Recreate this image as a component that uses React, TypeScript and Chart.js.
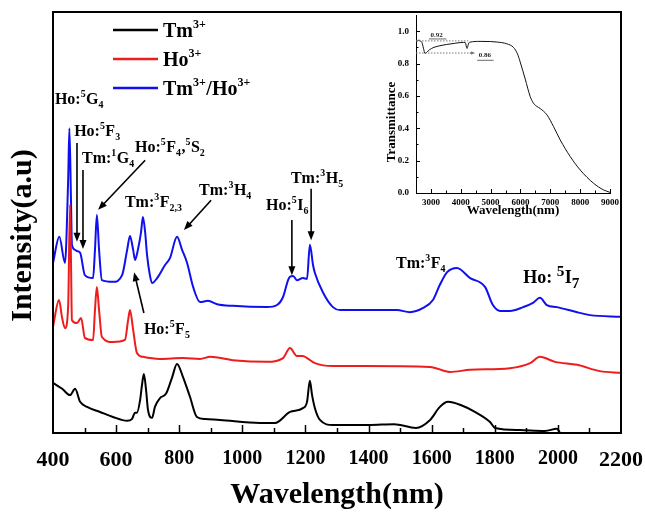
import React, { useEffect, useRef } from 'react';
import { Chart, registerables } from 'chart.js';
Chart.register(...registerables);

const FONT = "'Liberation Serif', 'Times New Roman', serif";

// ---- Main spectra (wavelength nm, intensity a.u.) ----
const TM_NM = [400, 429, 454, 470, 486, 508, 549, 590, 635, 650, 660, 666, 676, 682, 688, 695, 701, 714, 723, 739, 758, 777, 793, 812, 834, 856, 882, 929, 1056, 1104, 1151, 1192, 1205, 1214, 1221, 1230, 1246, 1287, 1401, 1481, 1550, 1595, 1626, 1652, 1690, 1737, 1785, 1801, 1880, 1959, 1997, 2006];
const TM_I = [11.9, 10.5, 9.0, 10.5, 7.4, 6.2, 5.0, 3.8, 2.9, 3.3, 4.8, 4.8, 7.8, 11.4, 14.0, 10.2, 5.5, 3.6, 6.2, 8.3, 9.3, 13.1, 16.4, 13.3, 8.6, 3.8, 3.3, 3.1, 2.4, 2.4, 5.0, 5.9, 7.4, 12.4, 9.0, 5.9, 3.1, 1.9, 1.9, 2.1, 1.2, 3.1, 6.2, 7.4, 6.7, 5.0, 2.6, 1.2, 0.7, 0.5, 1.0, 0.2];

const HO_NM = [400, 419, 429, 438, 448, 454, 457, 460, 476, 489, 501, 527, 533, 539, 546, 555, 590, 628, 638, 644, 654, 666, 685, 739, 812, 866, 898, 970, 1078, 1129, 1151, 1173, 1192, 1205, 1230, 1287, 1382, 1595, 1658, 1722, 1848, 1912, 1943, 1991, 2061, 2133, 2200];
const HO_I = [25.2, 31.6, 27.3, 24.9, 30.0, 54.2, 41.1, 26.8, 26.1, 27.3, 22.6, 22.1, 29.2, 34.7, 29.2, 22.8, 21.6, 22.1, 26.8, 29.2, 24.5, 19.0, 18.1, 17.6, 17.8, 17.6, 18.1, 17.3, 16.9, 17.8, 20.2, 18.3, 18.3, 17.8, 16.6, 15.9, 15.9, 15.7, 14.5, 15.0, 15.4, 16.6, 18.1, 16.9, 16.2, 14.7, 14.3];

const CO_NM = [400, 420, 438, 448, 452, 457, 460, 470, 476, 486, 501, 527, 533, 539, 546, 555, 590, 619, 635, 644, 654, 660, 669, 679, 685, 692, 698, 707, 714, 730, 755, 771, 793, 809, 825, 844, 866, 891, 920, 970, 1078, 1110, 1129, 1145, 1151, 1161, 1173, 1192, 1205, 1214, 1224, 1230, 1256, 1287, 1310, 1382, 1490, 1531, 1573, 1604, 1626, 1649, 1680, 1722, 1769, 1794, 1817, 1848, 1890, 1921, 1943, 1965, 1997, 2061, 2102, 2200];
const CO_I = [40.4, 46.6, 40.4, 60.1, 72.4, 55.3, 44.7, 43.5, 43.2, 42.8, 37.5, 36.8, 43.5, 51.8, 43.5, 36.3, 35.9, 37.5, 43.5, 46.8, 43.5, 41.1, 43.5, 47.7, 51.3, 47.7, 42.3, 37.5, 35.6, 36.8, 39.9, 41.6, 46.6, 43.5, 40.4, 34.7, 31.1, 31.4, 30.6, 30.2, 29.9, 30.4, 32.3, 36.3, 37.1, 37.3, 36.3, 36.8, 36.6, 44.7, 39.9, 38.0, 33.3, 29.9, 29.2, 29.2, 29.2, 28.7, 29.7, 31.6, 35.2, 38.2, 39.2, 36.8, 34.7, 30.4, 29.0, 29.0, 29.9, 30.9, 32.1, 30.4, 29.9, 28.7, 28.0, 27.6];

const X_TICKS = [400, 600, 800, 1000, 1200, 1400, 1600, 1800, 2000, 2200];

// ---- Inset: transmittance ----
const INSET_NM = [2500, 2550, 2600, 2650, 2700, 2750, 2800, 2850, 2950, 3100, 3300, 3530, 3800, 4087, 4150, 4210, 4240, 4270, 4312, 4648, 5000, 5208, 5544, 5765, 5900, 5990, 6158, 6326, 6436, 6550, 6661, 6886, 7107, 7332, 7668, 8003, 8450, 8785, 9000];
const INSET_T = [0.931, 0.940, 0.945, 0.938, 0.930, 0.895, 0.862, 0.868, 0.885, 0.900, 0.910, 0.918, 0.925, 0.931, 0.930, 0.893, 0.910, 0.927, 0.932, 0.937, 0.936, 0.933, 0.922, 0.900, 0.860, 0.810, 0.705, 0.596, 0.555, 0.535, 0.522, 0.483, 0.411, 0.328, 0.225, 0.142, 0.060, 0.019, 0.004];
const INSET_X_TICKS = [3000, 4000, 5000, 6000, 7000, 8000, 9000];
const INSET_Y_TICKS = [0, 0.2, 0.4, 0.6, 0.8, 1.0];

type Seg = [string, number];

const LEGEND: { segs: Seg[]; color: string }[] = [
  { segs: [['Tm', 0], ['3+', 1]], color: '#000000' },
  { segs: [['Ho', 0], ['3+', 1]], color: '#ee1c1c' },
  { segs: [['Tm', 0], ['3+', 1], ['/Ho', 0], ['3+', 1]], color: '#1010ee' },
];

const LABELS: { segs: Seg[]; nm: number; v: number; big?: boolean }[] = [
  { segs: [['Ho:', 0], ['5', 1], ['G', 0], ['4', -1]], nm: 406, v: 78.1 },
  { segs: [['Ho:', 0], ['5', 1], ['F', 0], ['3', -1]], nm: 467, v: 70.5 },
  { segs: [['Tm:', 0], ['1', 1], ['G', 0], ['4', -1]], nm: 492, v: 64.1 },
  { segs: [['Ho:', 0], ['5', 1], ['F', 0], ['4', -1], [',', 0], ['5', 1], ['S', 0], ['2', -1]], nm: 660, v: 66.7 },
  { segs: [['Tm:', 0], ['3', 1], ['F', 0], ['2,3', -1]], nm: 628, v: 53.7 },
  { segs: [['Tm:', 0], ['3', 1], ['H', 0], ['4', -1]], nm: 863, v: 56.5 },
  { segs: [['Ho:', 0], ['5', 1], ['I', 0], ['6', -1]], nm: 1075, v: 53.0 },
  { segs: [['Tm:', 0], ['3', 1], ['H', 0], ['5', -1]], nm: 1154, v: 59.4 },
  { segs: [['Ho:', 0], ['5', 1], ['F', 0], ['5', -1]], nm: 688, v: 23.5 },
  { segs: [['Tm:', 0], ['3', 1], ['F', 0], ['4', -1]], nm: 1487, v: 39.2 },
  { segs: [['Ho: ', 0], ['5', 1], ['I', 0], ['7', -1]], nm: 1890, v: 35.6, big: true },
];

// arrows: [fromNm, fromV, toNm, toV]
const ARROWS: number[][] = [
  [476, 68.9, 476, 45.4],
  [495, 62.5, 495, 43.7],
  [692, 64.8, 543, 53.0],
  [901, 55.3, 815, 48.2],
  [1157, 50.6, 1157, 37.5],
  [1218, 58.0, 1218, 45.8],
  [688, 28.5, 657, 38.2],
];

function drawRich(ctx: CanvasRenderingContext2D, x: number, y: number, segs: Seg[], size: number, scale = 0.62) {
  let cx = x;
  ctx.textAlign = 'left';
  ctx.textBaseline = 'alphabetic';
  for (const [t, k] of segs) {
    const fs = k === 0 ? size : size * scale;
    ctx.font = `bold ${fs}px ${FONT}`;
    const dy = k === 1 ? -size * 0.42 : k === -1 ? size * 0.25 : 0;
    ctx.fillText(t, cx, y + dy);
    cx += ctx.measureText(t).width + (k !== 0 ? 0.5 : 0);
  }
}

function drawArrow(ctx: CanvasRenderingContext2D, x1: number, y1: number, x2: number, y2: number, L = 9, W = 3.5) {
  const a = Math.atan2(y2 - y1, x2 - x1);
  const c = Math.cos(a), s = Math.sin(a);
  ctx.beginPath();
  ctx.moveTo(x1, y1);
  ctx.lineTo(x2 - L * 0.7 * c, y2 - L * 0.7 * s);
  ctx.stroke();
  ctx.beginPath();
  ctx.moveTo(x2, y2);
  ctx.lineTo(x2 - L * c + W * s, y2 - L * s - W * c);
  ctx.lineTo(x2 - L * c - W * s, y2 - L * s + W * c);
  ctx.closePath();
  ctx.fill();
}

const mainDecor = {
  id: 'mainDecor',
  afterDatasetsDraw(chart: any) {
    const ctx: CanvasRenderingContext2D = chart.ctx;
    const { left, right, top, bottom } = chart.chartArea;
    const xs = chart.scales.x, ys = chart.scales.y;
    ctx.save();
    ctx.strokeStyle = '#000';
    ctx.fillStyle = '#000';
    ctx.lineWidth = 2;
    ctx.strokeRect(left, top, right - left, bottom - top);
    ctx.lineWidth = 1.5;
    for (let v = 500; v < 2200; v += 100) {
      const x = Math.round(xs.getPixelForValue(v)) + 0.5;
      const len = v % 200 === 0 ? 8 : 5;
      ctx.beginPath();
      ctx.moveTo(x, bottom);
      ctx.lineTo(x, bottom - len);
      ctx.stroke();
    }
    ctx.save();
    ctx.translate(left - 30, (top + bottom) / 2 + 13);
    ctx.rotate(-Math.PI / 2);
    ctx.font = `bold 30px ${FONT}`;
    ctx.textAlign = 'center';
    ctx.textBaseline = 'middle';
    ctx.fillText('Intensity(a.u)', 0, 0);
    ctx.restore();
    LEGEND.forEach((e, i) => {
      const y = top + 18 + i * 29;
      ctx.strokeStyle = e.color;
      ctx.lineWidth = 2.5;
      ctx.beginPath();
      ctx.moveTo(left + 60, y);
      ctx.lineTo(left + 105, y);
      ctx.stroke();
      ctx.fillStyle = '#000';
      drawRich(ctx, left + 110, y + 6.5, e.segs, 20, 0.6);
    });
    ctx.fillStyle = '#000';
    for (const l of LABELS) {
      const x = xs.getPixelForValue(l.nm);
      const y = ys.getPixelForValue(l.v);
      drawRich(ctx, x, y, l.segs, l.big ? 18 : 16, l.big ? 0.85 : 0.62);
    }
    ctx.strokeStyle = '#000';
    ctx.fillStyle = '#000';
    ctx.lineWidth = 1.6;
    for (const [a, b, c, d] of ARROWS) {
      drawArrow(ctx, xs.getPixelForValue(a), ys.getPixelForValue(b), xs.getPixelForValue(c), ys.getPixelForValue(d));
    }
    ctx.restore();
  },
};

const insetDecor = {
  id: 'insetDecor',
  afterDatasetsDraw(chart: any) {
    const ctx: CanvasRenderingContext2D = chart.ctx;
    const { left, top, bottom } = chart.chartArea;
    const xs = chart.scales.x, ys = chart.scales.y;
    ctx.save();
    ctx.strokeStyle = '#000';
    ctx.fillStyle = '#000';
    ctx.lineWidth = 1;
    for (let v = 2500; v <= 9000; v += 500) {
      const x = Math.round(xs.getPixelForValue(v)) + 0.5;
      const len = v % 1000 === 0 ? 4 : 2.5;
      ctx.beginPath();
      ctx.moveTo(x, bottom);
      ctx.lineTo(x, bottom - len);
      ctx.stroke();
    }
    for (let i = 1; i <= 10; i++) {
      const v = i / 10;
      const y = Math.round(ys.getPixelForValue(v)) + 0.5;
      const len = i % 2 === 0 ? 4 : 2.5;
      ctx.beginPath();
      ctx.moveTo(left, y);
      ctx.lineTo(left + len, y);
      ctx.stroke();
    }
    ctx.save();
    ctx.translate(left - 24, (top + bottom) / 2 + 18);
    ctx.rotate(-Math.PI / 2);
    ctx.font = `bold 13px ${FONT}`;
    ctx.textAlign = 'center';
    ctx.textBaseline = 'middle';
    ctx.fillText('Transmittance', 0, 0);
    ctx.restore();
    ctx.strokeStyle = '#777';
    ctx.fillStyle = '#777';
    ctx.setLineDash([1.5, 1.5]);
    ctx.beginPath();
    ctx.moveTo(xs.getPixelForValue(2500), ys.getPixelForValue(0.94));
    ctx.lineTo(xs.getPixelForValue(4250), ys.getPixelForValue(0.94));
    ctx.stroke();
    ctx.beginPath();
    ctx.moveTo(xs.getPixelForValue(2500), ys.getPixelForValue(0.865));
    ctx.lineTo(xs.getPixelForValue(4400), ys.getPixelForValue(0.865));
    ctx.stroke();
    ctx.setLineDash([]);
    drawArrow(ctx, xs.getPixelForValue(4300), ys.getPixelForValue(0.865), xs.getPixelForValue(4480), ys.getPixelForValue(0.865), 4, 1.8);
    ctx.fillStyle = '#222';
    ctx.strokeStyle = '#444';
    ctx.font = `bold 7px ${FONT}`;
    ctx.textAlign = 'left';
    ctx.textBaseline = 'alphabetic';
    ctx.fillText('0.92', xs.getPixelForValue(2990), ys.getPixelForValue(0.962));
    ctx.fillText('0.86', xs.getPixelForValue(4600), ys.getPixelForValue(0.84));
    ctx.lineWidth = 0.8;
    ctx.beginPath();
    ctx.moveTo(xs.getPixelForValue(2930), ys.getPixelForValue(0.952));
    ctx.lineTo(xs.getPixelForValue(3520), ys.getPixelForValue(0.952));
    ctx.moveTo(xs.getPixelForValue(4550), ys.getPixelForValue(0.82));
    ctx.lineTo(xs.getPixelForValue(5100), ys.getPixelForValue(0.82));
    ctx.stroke();
    ctx.restore();
  },
};

export default function App() {
  const mainRef = useRef<HTMLCanvasElement>(null);
  const insetRef = useRef<HTMLCanvasElement>(null);

  useEffect(() => {
    const mk = (xs: number[], ys: number[]) => xs.map((x, i) => ({ x, y: ys[i] }));
    const main = new Chart(mainRef.current as HTMLCanvasElement, {
      type: 'line',
      data: {
        datasets: [
          { label: 'Tm3+', data: mk(TM_NM, TM_I), borderColor: '#000000', borderWidth: 2, pointRadius: 0, cubicInterpolationMode: 'monotone' },
          { label: 'Ho3+', data: mk(HO_NM, HO_I), borderColor: '#ee1c1c', borderWidth: 2, pointRadius: 0, cubicInterpolationMode: 'monotone' },
          { label: 'Tm3+/Ho3+', data: mk(CO_NM, CO_I), borderColor: '#1010ee', borderWidth: 2, pointRadius: 0, cubicInterpolationMode: 'monotone' },
        ],
      },
      options: {
        responsive: false,
        animation: false,
        events: [],
        layout: { padding: { left: 53, right: 24, top: 12, bottom: 0 } },
        plugins: { legend: { display: false }, tooltip: { enabled: false } },
        scales: {
          x: {
            type: 'linear',
            min: 400,
            max: 2200,
            grid: { display: false, drawTicks: false },
            border: { display: false },
            afterBuildTicks: (s: any) => { s.ticks = X_TICKS.map((v) => ({ value: v })); },
            ticks: {
              autoSkip: false,
              maxRotation: 0,
              padding: 14,
              color: '#000',
              callback: (v: any) => String(v),
              font: (c: any) => ({ family: FONT, weight: 'bold', size: [400, 600, 2200].includes(c.tick && c.tick.value) ? 22 : 20 }),
            },
            title: {
              display: true,
              text: 'Wavelength(nm)',
              color: '#000',
              font: { family: FONT, size: 30, weight: 'bold', lineHeight: 1 },
              padding: { top: 0, bottom: 2 },
            },
            afterFit: (s: any) => { s.height = 79; s.paddingLeft = 0; s.paddingRight = 0; },
          },
          y: { display: false, min: 0, max: 100 },
        },
      },
      plugins: [mainDecor],
    } as any);

    const inset = new Chart(insetRef.current as HTMLCanvasElement, {
      type: 'line',
      data: {
        datasets: [
          { label: 'Transmittance', data: mk(INSET_NM, INSET_T), borderColor: '#111', borderWidth: 1, pointRadius: 0, cubicInterpolationMode: 'monotone' },
        ],
      },
      options: {
        responsive: false,
        animation: false,
        events: [],
        layout: { padding: { left: 0, right: 15, top: 10, bottom: 0 } },
        plugins: { legend: { display: false }, tooltip: { enabled: false } },
        scales: {
          x: {
            type: 'linear',
            min: 2500,
            max: 9000,
            grid: { display: false, drawTicks: false },
            border: { display: true, color: '#000', width: 1 },
            afterBuildTicks: (s: any) => { s.ticks = INSET_X_TICKS.map((v) => ({ value: v })); },
            ticks: {
              autoSkip: false,
              maxRotation: 0,
              padding: 4,
              color: '#000',
              callback: (v: any) => String(v),
              font: { family: FONT, size: 9, weight: 'bold' },
            },
            title: {
              display: true,
              text: 'Wavelength(nm)',
              color: '#000',
              font: { family: FONT, size: 13, weight: 'bold', lineHeight: 1 },
              padding: { top: 0, bottom: 10 },
            },
            afterFit: (s: any) => { s.height = 34; s.paddingLeft = 0; s.paddingRight = 0; },
          },
          y: {
            min: 0,
            max: 1.1,
            grid: { display: false, drawTicks: false },
            border: { display: true, color: '#000', width: 1 },
            afterBuildTicks: (s: any) => { s.ticks = INSET_Y_TICKS.map((v) => ({ value: v })); },
            ticks: {
              autoSkip: false,
              padding: 7,
              color: '#000',
              font: { family: FONT, size: 9, weight: 'bold' },
              callback: (v: any) => Number(v).toFixed(1),
            },
            afterFit: (s: any) => { s.width = 46; s.paddingTop = 0; s.paddingBottom = 0; },
          },
        },
      },
      plugins: [insetDecor],
    } as any);

    return () => {
      main.destroy();
      inset.destroy();
    };
  }, []);

  return (
    <div style={{ position: 'fixed', left: 0, top: 0, width: 645, height: 512, background: '#fff' }}>
      <canvas ref={mainRef} width={645} height={512} style={{ position: 'absolute', left: 0, top: 0, width: 645, height: 512 }} />
      <canvas ref={insetRef} width={255} height={222} style={{ position: 'absolute', left: 370, top: 5, width: 255, height: 222 }} />
    </div>
  );
}
